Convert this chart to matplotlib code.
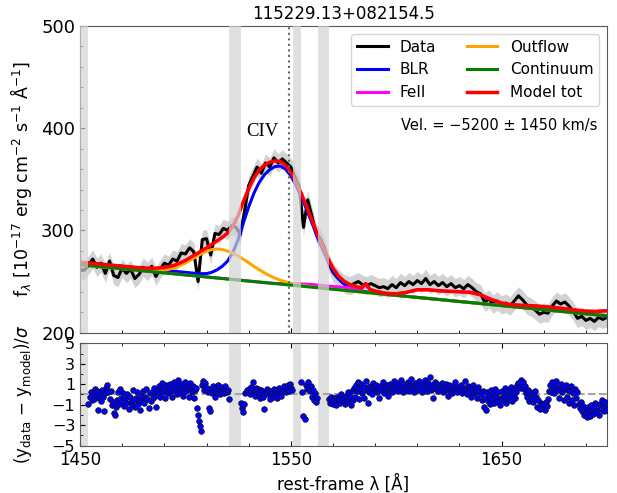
#!/usr/bin/env python3
"""
CIV fit of 115229.13+082154.5: spectrum, model components and residuals
"""

import numpy as np
import matplotlib
matplotlib.use('Agg')
import matplotlib.pyplot as plt
from matplotlib.ticker import MultipleLocator, FixedLocator

nan = np.nan

# ============== Data ==============
object_name = '115229.13+082154.5'
velocity_text = 'Vel. = \u22125200 \u00b1 1450 km/s'

# observed spectrum, every 2 A from 1450 to 1700
lam_data = np.arange(1450, 1701, 2)
flux_data = [
    262, 261, 266, 272, 264, 268, 258, 270, 256, 254,
    263, 258, 262, 253, 257, 264, 260, 265, 255, 262,
    268, 266, 272, 270, 278, 277, 283, 279, 250, 291,
    292, 276, 297, 296, 302, 300, 305, 303, 296, 318,
    344, 353, 362, 356, 366, 362, 371, 366, 370, 366,
    362, 352, 343, 303, 330, 314, 297, 292, 283, 268,
    259, 254, 250, 247, 246, 248, 250, 247, 246, 248,
    246, 244, 245, 243, 247, 244, 249, 246, 250, 247,
    251, 248, 253, 247, 250, 246, 249, 245, 248, 244,
    246, 243, 247, 244, 240, 238, 230, 233, 228, 231,
    227, 229, 226, 231, 236, 232, 227, 225, 222, 218,
    220, 219, 226, 231, 228, 230, 226, 221, 214, 216,
    212, 214, 211, 215, 213, 215,
]
flux_err = 9.0

# model components on a common wavelength grid (finer around the line)
lam_model = [
    1450, 1455, 1460, 1465, 1470, 1475, 1480, 1485, 1490,
    1492.5, 1495, 1497.5, 1500, 1502.5, 1505, 1507.5, 1510, 1512.5, 1515,
    1517.5, 1520, 1522.5, 1525, 1527.5, 1530, 1532.5, 1535, 1537.5, 1540,
    1542.5, 1545, 1547.5, 1550, 1552.5, 1555, 1557.5, 1560, 1562.5, 1565,
    1567.5, 1570, 1572.5, 1575, 1577.5, 1580,
    1583.5, 1585.5, 1587.5,
    1590, 1595, 1600, 1605, 1610, 1615, 1620, 1625, 1630, 1635,
    1640, 1645, 1650, 1655, 1660, 1665, 1670, 1675, 1680, 1685,
    1690, 1695, 1700,
]
continuum = [
    266.5, 265.5, 264.5, 263.5, 262.5, 261.5, 260.5, 259.5, 258.5,
    258.0, 257.5, 257.0, 256.5, 256.0, 255.5, 255.0, 254.5, 254.0, 253.5,
    253.0, 252.5, 252.0, 251.5, 251.0, 250.5, 250.0, 249.5, 249.0, 248.5,
    248.0, 247.5, 247.0, 246.5, 246.0, 245.5, 245.0, 244.5, 244.0, 243.5,
    243.0, 242.5, 242.0, 241.5, 241.0, 240.5,
    239.8, 239.4, 239.0,
    238.5, 237.5, 236.5, 235.5, 234.5, 233.5, 232.5, 231.5, 230.5, 229.5,
    228.5, 227.5, 226.5, 225.5, 224.5, 223.5, 222.5, 221.5, 220.5, 219.5,
    218.5, 217.5, 216.5,
]
blr = [
    2.5, 2.5, 2.5, 2.5, 2.5, 2.5, 2.5, 2.5, 2.5,
    2.5, 2.5, 2.5, 2.5, 2.5, 2.5, 2.7, 3.3, 5.0, 8.0,
    12.0, 17.5, 26.5, 39.5, 56.5, 72.5, 86.5, 97.5, 105.5, 111.0,
    114.5, 115.5, 113.0, 107.0, 98.0, 87.5, 75.5, 63.0, 50.0, 38.5,
    27.5, 18.0, 11.0, 6.5, 3.8, 2.2,
    1.0, 0.6, 0.4,
    0.2, 0, 0, 0, 0, 0, 0, 0, 0, 0,
    0, 0, 0, 0, 0, 0, 0, 0, 0, 0,
    0, 0, 0,
]
outflow = [
    0, 0, 0, 0, 0, 0.1, 0.3, 1.0, 2.7,
    4.2, 6.2, 8.8, 11.7, 15.2, 18.7, 22.2, 25.1, 27.3, 28.4,
    28.3, 27.4, 25.7, 23.5, 20.8, 17.9, 14.9, 12.1, 9.5, 7.2,
    5.4, 3.9, 2.7, 1.8, 1.2, 0.8, 0.5, 0.3, 0.2, 0.1,
    0, 0, 0, 0, 0, 0,
    0, 0, 0,
    0, 0, 0, 0, 0, 0, 0, 0, 0, 0,
    0, 0, 0, 0, 0, 0, 0, 0, 0, 0,
    0, 0, 0,
]
feii = [
    0, 0, 0, 0, 0, 0, 0, 0, 0,
    0, 0, 0, 0, 0, 0, 0, 0, 0, 0,
    0, 0, 0, 0, 0, 0, 0, 0, 0, 0,
    0.2, 0.5, 1.0, 1.5, 1.9, 2.2, 2.4, 2.6, 2.65, 2.7,
    2.7, 2.7, 2.75, 2.8, 2.9, 3.0,
    3.0, 8.0, 3.0,
    2.0, 1.0, 1.5, 4.0, 7.5, 8.5, 8.5, 9.0, 9.5, 10.0,
    8.5, 5.0, 2.5, 1.8, 2.2, 2.8, 3.0, 3.0, 3.0, 2.6,
    2.5, 3.3, 5.0,
]

# normalised residuals, every 0.5 A (nan inside the masked windows)
lam_resid = np.arange(1450, 1700.25, 0.5)
resid = [
    nan, nan, nan, nan, nan, nan, nan, nan, -0.9, -0.2, 0.2, -0.5, 0.0, -0.4, 0.5, -0.1, 0.3, -1.5, -0.3, 0.1,
    -0.6, 0.4, -0.2, -1.6, 0.1, 0.6, 0.9, 0.2, -0.4, 0.3, -1.0, -0.7, -1.8, -2.0, -1.2, -0.5, 0.2, -0.9, 0.5, -0.3,
    -0.6, 0.1, -1.1, -0.4, -0.8, 0.0, -1.4, -0.2, -0.7, -1.0, 0.4, -0.5, -1.2, -0.3, 0.2, -0.9, -0.4, -1.5, -0.1, -0.6,
    0.3, -0.8, -0.2, 0.5, -0.4, -1.3, 0.1, -0.6, 0.2, -0.3, 0.6, -0.1, -1.2, 0.3, 0.0, 0.8, -0.2, 0.4, 1.1, 0.2,
    0.5, -0.3, 0.9, 0.1, 0.6, 1.0, 0.3, -0.2, 0.7, 1.2, 0.4, 0.9, 0.0, 1.4, 0.6, 0.2, 1.0, 0.5, -0.1, 0.8,
    1.2, 0.3, 0.7, -0.2, 1.1, 0.5, 0.2, 0.8, -0.3, 0.4, 0.6, -1.3, -2.0, -2.6, -3.1, -3.6, 0.9, 1.3, 0.4, 1.1,
    0.6, 0.2, -1.3, -1.6, 0.5, 0.1, 0.8, 0.3, -0.2, 0.6, 0.2, 0.9, 0.4, 0.0, 0.7, 0.3, 0.5, 0.1, 0.8, 0.2,
    0.4, -0.4, nan, nan, nan, nan, nan, nan, nan, nan, nan, nan, nan, -0.8, -1.3, -1.7, -0.9, 0.1, 0.4, 0.2,
    0.5, 0.0, 0.7, 0.3, 1.2, 0.4, -0.1, 0.6, 0.2, 0.5, 0.1, -0.3, 0.4, 0.3, -0.2, -1.4, 0.2, 0.5, 0.0, 0.3,
    -0.4, 0.3, 0.1, -0.2, 0.5, 0.0, 0.4, -0.3, 0.2, 0.6, 0.1, -0.1, 0.4, 0.3, 0.8, 0.2, 0.5, 0.9, 0.3, 1.0,
    0.6, 0.4, nan, nan, nan, nan, nan, nan, nan, nan, 1.2, 0.2, -2.1, -2.4, 0.9, 0.5, 1.2, 0.6, 0.3, 0.8,
    -0.2, 0.4, -0.5, 0.1, -0.7, -0.3, nan, nan, nan, nan, nan, nan, nan, nan, nan, nan, -0.4, -0.8, -0.2, -0.6,
    -0.9, -0.3, -0.5, -1.0, -0.2, -0.7, -0.4, -0.8, 0.0, -0.5, -0.3, -0.9, -0.1, -0.6, 0.2, -0.4, -0.2, -1.0, 0.3, -0.5,
    0.6, -0.2, 0.9, 0.3, 1.2, -0.4, 0.5, 1.0, 0.1, -0.3, 0.7, 1.3, 0.4, -0.8, 0.2, 0.8, 0.5, 0.0, 1.1, 0.6,
    0.3, 0.9, 0.2, 0.6, -0.3, 0.8, 0.4, 1.2, 0.1, 0.7, 0.3, 0.9, -0.1, 0.5, 1.0, 0.4, 0.2, 0.8, 1.3, 0.5,
    0.7, 1.1, 0.3, 0.9, 0.5, 1.4, 0.2, 0.8, 1.0, 0.4, 0.6, 1.2, 0.3, 0.9, 1.5, 0.5, 0.7, 0.2, 1.1, 0.6,
    0.9, 0.4, 1.3, 0.6, 0.2, 1.0, 0.5, 1.4, 0.8, 0.3, 1.1, 0.6, 1.7, 0.4, 0.9, -0.3, 0.7, 1.2, 0.5, 1.0,
    0.3, 0.8, 0.5, 1.1, 0.2, 0.7, 0.4, 1.0, 0.6, -0.1, 0.9, 0.3, 0.6, 0.1, 0.8, 0.4, 1.2, 0.5, 0.2, 0.7,
    0.4, 0.9, 0.1, 0.6, 0.3, 1.3, 0.5, 0.0, 0.8, 0.2, 0.6, -0.2, 0.4, 0.9, 0.1, 0.5, 0.3, -0.3, 0.7, 0.2,
    0.0, -0.5, 0.3, -1.2, -0.3, -1.5, 0.2, -0.6, -0.1, -0.9, 0.4, -0.4, 0.1, -0.8, 0.5, -0.2, -0.6, 0.2, -1.0, -0.3,
    0.3, -0.5, -0.1, 0.6, -0.8, 0.0, -0.4, 0.4, -0.2, 0.7, -0.6, 0.1, 0.5, -0.3, 0.2, 0.9, 1.1, 0.6, 1.4, 1.0,
    1.2, 0.5, 0.8, 0.1, -0.2, 0.4, -0.6, 0.2, -0.3, 0.1, -0.7, -0.4, 0.3, -0.2, -1.2, -0.5, -1.4, -0.8, -1.0, -1.3,
    -0.9, -1.5, -0.7, -1.1, -0.4, 0.3, 0.9, 0.2, 1.2, 0.6, 0.1, 0.8, 1.3, 0.4, -0.3, 0.7, 1.0, 0.2, 0.5, -0.5,
    0.6, 0.9, -0.2, 0.4, -0.8, 0.3, 0.8, -0.5, 0.1, -1.0, 0.5, -0.3, 0.2, -0.9, -1.3, -0.7, -1.6, -1.1, -2.0, -1.4,
    -1.8, -2.2, -1.2, -1.6, -2.1, -1.0, -1.5, -1.9, -1.3, -0.8, -1.7, -1.2, -2.0, -0.9, -1.4, -0.5, -1.1, -1.6, -0.7, -1.3,
    -1.5,
]

# wavelength windows excluded from the fit
masked_windows = [(1450.0, 1454.0), (1520.6, 1526.2), (1551.1, 1554.9), (1562.7, 1567.9)]
civ_rest = 1549.06


def plot_fit():
    """Spectrum + components (top) and residuals (bottom)"""
    flux = np.array(flux_data, dtype=float)
    cont = np.array(continuum)
    blr_tot = cont + np.array(blr)
    out_tot = cont + np.array(outflow)
    fe_tot = cont + np.array(feii)
    model_tot = cont + np.array(blr) + np.array(outflow) + np.array(feii)

    fig = plt.figure(figsize=(6.17, 4.93), dpi=100)
    ax1 = fig.add_axes([0.1297, 0.3252, 0.8541, 0.6221])
    ax2 = fig.add_axes([0.1297, 0.0959, 0.8541, 0.2078])

    # ---- top panel ----
    ax1.fill_between(lam_data, flux - flux_err, flux + flux_err,
                     color='silver', alpha=0.7, lw=0)
    ax1.plot(lam_data, flux, color='black', lw=2.2, label='Data')
    ax1.plot(lam_model, blr_tot, color='blue', lw=2.2, label='BLR')
    ax1.plot(lam_model, fe_tot, color='magenta', lw=2.2, label='FeII')
    ax1.plot(lam_model, out_tot, color='orange', lw=2.2, label='Outflow')
    ax1.plot(lam_model, cont, color='green', lw=2.2, label='Continuum')
    ax1.plot(lam_model, model_tot, color='red', lw=2.5, label='Model tot')

    for lo, hi in masked_windows:
        ax1.axvspan(lo, hi, color='lightgray', alpha=0.7, lw=0, zorder=5)
    ax1.axvline(civ_rest, color='0.4', ls=':', lw=1.5, zorder=6)

    ax1.text(1536.5, 396.5, 'CIV', family='Liberation Serif', fontsize=13.5,
             ha='center', va='center')
    ax1.text(0.61, 0.674, velocity_text, transform=ax1.transAxes,
             fontsize=10.5, ha='left', va='center')
    ax1.legend(loc='upper right', ncol=2, fontsize=11)
    ax1.set_title(object_name, fontsize=12, pad=5)

    ax1.set_xlim(1450, 1700)
    ax1.set_ylim(200, 500)
    ax1.xaxis.set_major_locator(FixedLocator([1450, 1550, 1650]))
    ax1.xaxis.set_minor_locator(FixedLocator(np.arange(1450, 1701, 20)))
    ax1.yaxis.set_major_locator(MultipleLocator(100))
    ax1.yaxis.set_minor_locator(MultipleLocator(20))
    ax1.tick_params(which='both', direction='in', top=False, right=False,
                    labelbottom=False)
    ax1.tick_params(axis='y', labelsize=13)
    ax1.set_ylabel('f$_\\lambda$ [10$^{-17}$ erg cm$^{-2}$ s$^{-1}$ \u00c5$^{-1}$]',
                   fontsize=12.5)
    ax1.yaxis.set_label_coords(-0.087, 0.5)

    # ---- bottom panel ----
    for lo, hi in masked_windows:
        ax2.axvspan(lo, hi, color='lightgray', alpha=0.7, lw=0, zorder=0)
    ax2.axhline(0, color='0.65', ls='--', lw=1.5, zorder=1)
    ax2.plot(lam_resid, resid, ls='none', marker='o', ms=4.0, color='blue',
             mec='#101040', mew=0.6, zorder=3)

    ax2.set_xlim(1450, 1700)
    ax2.set_ylim(-5, 5)
    ax2.xaxis.set_major_locator(FixedLocator([1450, 1550, 1650]))
    ax2.xaxis.set_minor_locator(FixedLocator(np.arange(1450, 1701, 20)))
    ax2.yaxis.set_major_locator(FixedLocator([-5, -3, -1, 1, 3, 5]))
    ax2.yaxis.set_minor_locator(MultipleLocator(1))
    ax2.tick_params(which='both', direction='in', top=True, bottom=True,
                    right=False)
    ax2.tick_params(axis='x', labelsize=12)
    ax2.tick_params(axis='y', labelsize=11.5)
    ax2.set_xlabel('rest-frame \u03bb [\u00c5]', fontsize=12)
    ax2.set_ylabel(r'(y$_{\rm data}$ $-$ y$_{\rm model}$)/$\sigma$', fontsize=12)
    ax2.yaxis.set_label_coords(-0.087, 0.5)

    for ax in (ax1, ax2):
        for sp in ax.spines.values():
            sp.set_color('0.35')

    fig.savefig('out.png', dpi=100)
    plt.close(fig)
    print('[+] saved out.png')


def main():
    plot_fit()
    return 0


if __name__ == '__main__':
    import sys
    sys.exit(main())
